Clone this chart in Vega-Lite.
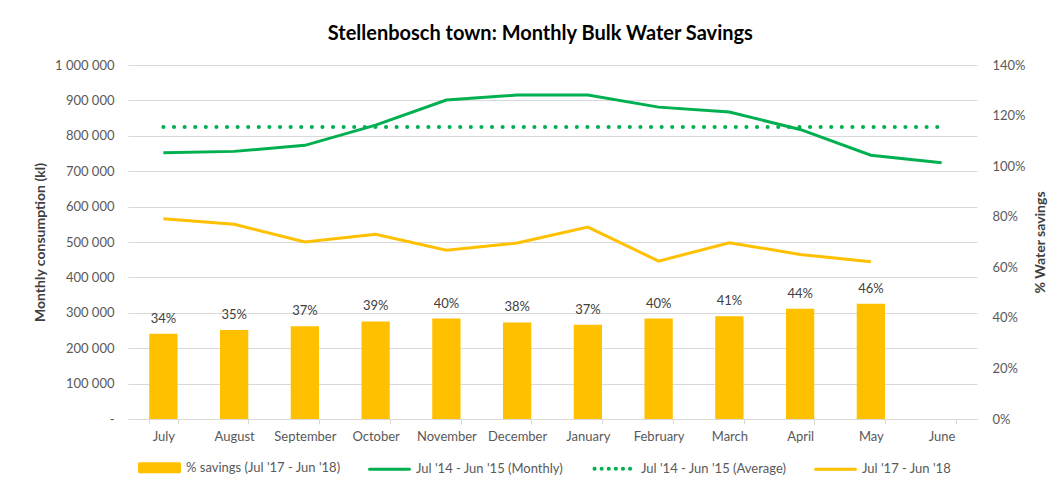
{
  "$schema": "https://vega.github.io/schema/vega-lite/v6.json",
  "width": 849,
  "height": 354,
  "padding": {"left": 33, "top": 24, "right": 10, "bottom": 2},
  "background": "white",
  "title": {"text": "Stellenbosch town: Monthly Bulk Water Savings", "font": "Lato", "fontSize": 20, "fontWeight": "bold", "color": "#000000", "offset": 15, "frame": "bounds"},
  "config": {"font": "Lato", "view": {"stroke": null}},
  "data": {"values": [
    {"month": "July", "savings": 0.337, "monthly1415": 752000, "avg1415": 825000, "y1718": 566000},
    {"month": "August", "savings": 0.352, "monthly1415": 756000, "avg1415": 825000, "y1718": 550000},
    {"month": "September", "savings": 0.367, "monthly1415": 773000, "avg1415": 825000, "y1718": 500000},
    {"month": "October", "savings": 0.386, "monthly1415": 830000, "avg1415": 825000, "y1718": 522000},
    {"month": "November", "savings": 0.397, "monthly1415": 901000, "avg1415": 825000, "y1718": 477000},
    {"month": "December", "savings": 0.382, "monthly1415": 915000, "avg1415": 825000, "y1718": 497000},
    {"month": "January", "savings": 0.373, "monthly1415": 915000, "avg1415": 825000, "y1718": 542000},
    {"month": "February", "savings": 0.397, "monthly1415": 881000, "avg1415": 825000, "y1718": 446000},
    {"month": "March", "savings": 0.406, "monthly1415": 867000, "avg1415": 825000, "y1718": 498000},
    {"month": "April", "savings": 0.436, "monthly1415": 818000, "avg1415": 825000, "y1718": 465000},
    {"month": "May", "savings": 0.456, "monthly1415": 745000, "avg1415": 825000, "y1718": 444000},
    {"month": "June", "savings": null, "monthly1415": 724000, "avg1415": 825000, "y1718": null}
  ]},
  "encoding": {
    "x": {
      "field": "month", "type": "nominal", "sort": null,
      "scale": {"paddingInner": 0.6, "paddingOuter": 0.3},
      "axis": {"title": null, "labelAngle": 0, "labelFont": "Lato", "labelFontSize": 13, "labelColor": "#595959", "domainColor": "#D9D9D9", "tickColor": "#D9D9D9", "tickBand": "extent", "tickSize": 5, "labelPadding": 6, "grid": false}
    }
  },
  "layer": [
    {
      "encoding": {
        "y": {
          "field": "savings", "type": "quantitative",
          "scale": {"domain": [0, 1.4]},
          "axis": {"orient": "right", "format": ".0%", "title": "% Water savings", "titleAngle": 270, "titleFont": "Lato", "titleFontSize": 14, "titleFontWeight": "bold", "titleColor": "#404040", "titlePadding": 22, "grid": false, "values": [0, 0.2, 0.4, 0.6, 0.8, 1.0, 1.2, 1.4], "tickCount": 8, "labelOverlap": false, "domain": false, "ticks": false, "labelPadding": 15, "labelFont": "Lato", "labelFontSize": 13, "labelColor": "#595959"}
        }
      },
      "layer": [
        {
          "mark": {"type": "bar"},
          "encoding": {
            "color": {
              "datum": "% savings (Jul '17 - Jun '18)", "type": "nominal",
              "scale": {"domain": ["% savings (Jul '17 - Jun '18)", "Jul '14 - Jun '15 (Monthly)", "Jul '14 - Jun '15 (Average)", "Jul '17 - Jun '18"], "range": ["#FFC000", "#00B050", "#00B050", "#FFC000"]},
              "legend": {
                "title": null, "orient": "bottom", "direction": "horizontal", "columnPadding": 22,
                "labelFont": "Lato", "labelFontSize": 13, "labelColor": "#595959", "labelOffset": 20,
                "symbolSize": 645, "offset": -7, "padding": 25,
                "encode": {
                  "symbols": {
                    "update": {
                      "size": {"value": 1600},
                      "shape": {"signal": "datum.index == 0 ? 'M-1,-0.2L1,-0.2L1,0.2L-1,0.2Z' : 'stroke'"},
                      "fill": {"signal": "datum.index == 0 ? '#FFC000' : 'transparent'"},
                      "stroke": {"signal": "datum.index == 0 ? 'transparent' : (datum.index == 3 ? '#FFC000' : '#00B050')"},
                      "strokeDash": {"signal": "datum.index == 2 ? [0.1, 7] : [1, 0]"},
                      "strokeCap": {"value": "round"},
                      "strokeWidth": {"signal": "datum.index == 2 ? 4 : 3"}
                    }
                  }
                }
              }
            }
          }
        },
        {
          "transform": [{"filter": "isValid(datum.savings)"}],
          "mark": {"type": "text", "dy": -15, "font": "Lato", "fontSize": 13, "color": "#404040"},
          "encoding": {"text": {"field": "savings", "type": "quantitative", "format": ".0%"}}
        }
      ]
    },
    {
      "transform": [{"fold": ["monthly1415", "avg1415", "y1718"], "as": ["series", "kl"]}],
      "encoding": {
        "y": {"field": "kl", "type": "quantitative", "scale": {"domain": [0, 1000000], "nice": false},
          "axis": {"orient": "left", "title": "Monthly consumption (kl)", "titleFont": "Lato", "titleFontSize": 14, "titleFontWeight": "bold", "titleColor": "#404040", "titlePadding": 7, "labelExpr": "datum.value == 0 ? '-' : replace(replace(format(datum.value, ','), ',', ' '), ',', ' ')", "values": [0, 100000, 200000, 300000, 400000, 500000, 600000, 700000, 800000, 900000, 1000000], "tickCount": 12, "labelOverlap": false, "grid": true, "domain": false, "ticks": false, "gridColor": "#D9D9D9", "labelPadding": 14, "labelFont": "Lato", "labelFontSize": 13, "labelColor": "#595959"}}
      },
      "layer": [
        {
          "transform": [{"filter": "datum.series == 'monthly1415'"}],
          "mark": {"type": "line", "strokeWidth": 3},
          "encoding": {"color": {"datum": "Jul '14 - Jun '15 (Monthly)", "type": "nominal"}}
        },
        {
          "transform": [{"filter": "datum.series == 'avg1415'"}],
          "mark": {"type": "line", "strokeWidth": 4, "strokeDash": [0.1, 10.5], "strokeCap": "round"},
          "encoding": {"color": {"datum": "Jul '14 - Jun '15 (Average)", "type": "nominal"}}
        },
        {
          "transform": [{"filter": "datum.series == 'y1718'"}],
          "mark": {"type": "line", "strokeWidth": 3},
          "encoding": {"color": {"datum": "Jul '17 - Jun '18", "type": "nominal"}}
        }
      ]
    }
  ],
  "resolve": {"scale": {"y": "independent"}}
}
